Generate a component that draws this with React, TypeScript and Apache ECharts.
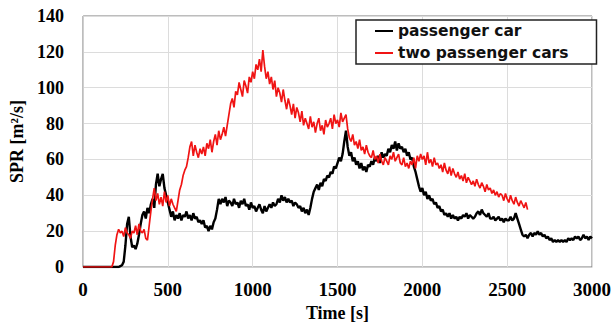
import React, { useEffect, useRef } from "react";
import * as echarts from "echarts";

// sampling step of both series, in seconds
const STEP = 10;

const xTicks = [0, 500, 1000, 1500, 2000, 2500, 3000];
const yTicks = [0, 20, 40, 60, 80, 100, 120, 140];

const seriesNames = ["passenger car", "two passenger cars"];

// SPR of one passenger car, t = 0, 10, ... 3000 s
const passengerCar = [
  0, 0, 0, 0, 0, 0, 0, 0, 0, 0,
  0, 0, 0, 0, 0, 0, 0, 0, 0, 0,
  0,
  0, 0.5, 1, 3, 12, 24, 28, 17, 11, 12,
  10, 13, 18, 24, 29, 31, 27, 33, 30, 35,
  38, 33, 46, 52, 45, 49, 52, 44, 40, 36,
  32, 28, 31, 26, 29, 27, 30, 26, 29, 28,
  31, 27, 29, 26, 30, 27, 28, 25, 26, 24,
  26, 22, 23, 20, 23, 21, 25, 27, 32, 38,
  35, 38, 36, 39, 34, 37, 36, 34, 38, 35,
  36, 33, 37, 35, 38, 34, 35, 32, 36, 33,
  34, 31, 33, 35, 32, 30, 34, 31, 33, 35,
  33, 36, 34, 35, 38, 36, 40, 37, 39, 36,
  38, 36, 37, 34, 36, 35, 33, 34, 31, 33,
  30, 32, 29, 33, 38, 42, 44, 46, 43, 47,
  45, 49, 48, 51, 50, 53, 52, 56, 55, 58,
  61, 59, 63, 70, 76, 67, 62, 64, 59, 61,
  57, 59, 55, 58, 54, 56, 53, 57, 56, 59,
  57, 61, 59, 62, 58, 64, 61, 63, 62, 66,
  64, 68, 66, 70, 65, 69, 66, 67, 64, 66,
  62, 64, 60, 61, 56, 53, 49, 45, 42, 44,
  40, 42, 38, 40, 37, 38, 35, 36, 33, 34,
  31, 32, 29, 30, 28, 30, 27, 29, 27, 28,
  26, 28, 27, 29, 28, 30, 27, 29, 28, 27,
  28, 30, 31, 29, 32, 30, 29, 28, 30, 27,
  27, 28, 26, 27, 28, 26, 27, 25, 27, 26,
  26, 28, 26, 27, 30, 27, 24, 21, 18, 17,
  18, 16, 18, 19, 17, 19, 18, 20, 18, 19,
  17, 18, 16, 17, 15, 16, 14, 15, 14, 15,
  14, 15, 14, 15, 14, 16, 15, 16, 15, 17,
  16, 17, 15, 16, 18, 16, 17, 15, 17, 16,
];

// SPR of two passenger cars, t = 0, 10, ... 2620 s
const twoPassengerCars = [
  0, 0, 0, 0, 0, 0, 0, 0, 0, 0,
  0, 0, 0, 0, 0, 0, 0, 0, 3, 12,
  18, 21, 19, 20, 17, 22, 19, 18, 16, 20,
  19, 23, 18, 24, 20, 19, 21, 16, 15, 23,
  31, 38, 44, 37, 41, 35, 39, 34, 42, 36,
  40, 34, 38, 35, 33, 31, 37, 43, 46, 51,
  54, 56, 61, 67, 70, 62, 68, 64, 61, 66,
  63, 67, 62, 69, 66, 71, 64, 70, 74, 68,
  76, 71, 74, 78, 73, 79, 85, 91, 94, 89,
  98, 96, 103, 99, 95, 104, 101, 97, 106, 103,
  109, 105, 113, 110, 116, 109, 121, 112, 105, 109,
  102, 106, 99, 104, 95, 100, 97, 92, 99, 93,
  88, 94, 90, 85, 91, 83, 89, 86, 81, 87,
  79, 83, 80, 77, 84, 78, 81, 75, 80, 83,
  76, 79, 74, 82, 78, 80, 83, 77, 85, 80,
  82, 78, 86, 81, 83, 85, 77, 72, 70, 74,
  68, 70, 66, 71, 65, 67, 63, 68, 64, 62,
  61, 65, 60, 62, 58, 63, 59, 57, 61, 59,
  57, 62, 60, 64, 59, 61, 63, 58, 57, 61,
  56, 58, 55, 59, 57, 61, 55, 62, 59, 63,
  60, 62, 57, 64, 58, 60, 56, 61, 57, 58,
  55, 57, 53, 58, 54, 52, 56, 51, 55, 52,
  50, 53, 49, 51, 48, 52, 47, 50, 48, 46,
  48, 45, 49, 46, 44, 47, 45, 42, 46, 43,
  44, 41, 43, 40, 42, 39, 41, 40, 37, 41,
  38, 36, 40, 37, 35, 39, 36, 34, 37, 35,
  33, 36, 32,
];

const SERIF = "'Liberation Serif', 'Times New Roman', serif";
const SANS = "'DejaVu Sans', sans-serif";

export default function App() {
  const ref = useRef<HTMLDivElement>(null);

  useEffect(() => {
    if (!ref.current) return;
    const chart = echarts.init(ref.current, undefined, { renderer: "svg" });
    const axisText = {
      fontFamily: SERIF,
      fontWeight: "bold" as const,
      color: "#000",
    };
    chart.setOption({
      animation: false,
      backgroundColor: "#fff",
      grid: {
        left: 83,
        right: 23,
        top: 16,
        bottom: 59,
        show: true,
        borderColor: "#7a7a7a",
        borderWidth: 1,
      },
      legend: {
        data: seriesNames,
        orient: "vertical",
        left: 356,
        top: 20,
        padding: [3, 28, 3, 19],
        itemWidth: 18,
        itemHeight: 2,
        itemGap: 6,
        icon: "rect",
        borderColor: "#222",
        borderWidth: 1.5,
        backgroundColor: "#fff",
        textStyle: {
          fontFamily: SANS,
          fontWeight: "bold",
          fontSize: 15.5,
          color: "#111",
        },
      },
      xAxis: {
        type: "value",
        min: xTicks[0],
        max: xTicks[xTicks.length - 1],
        interval: xTicks[1] - xTicks[0],
        name: "Time [s]",
        nameLocation: "middle",
        nameGap: 37,
        nameTextStyle: { ...axisText, fontSize: 18 },
        axisLine: { show: true, lineStyle: { color: "#cfcfcf", width: 1 } },
        axisTick: { show: false },
        axisLabel: {
          ...axisText,
          fontSize: 19,
          margin: 13,
          formatter: (v: number) => String(v),
        },
        splitLine: { show: true, lineStyle: { color: "#dcdcdc", width: 1 } },
      },
      yAxis: {
        type: "value",
        min: yTicks[0],
        max: yTicks[yTicks.length - 1],
        interval: yTicks[1] - yTicks[0],
        name: "SPR [m\u00b2/s]",
        nameLocation: "middle",
        nameGap: 55,
        nameTextStyle: { ...axisText, fontSize: 18 },
        axisLine: { show: true, lineStyle: { color: "#cfcfcf", width: 1 } },
        axisTick: { show: false },
        axisLabel: {
          ...axisText,
          fontSize: 18,
          margin: 19,
          formatter: (v: number) => String(v),
        },
        splitLine: { show: true, lineStyle: { color: "#dcdcdc", width: 1 } },
      },
      series: [
        {
          name: seriesNames[0],
          type: "line",
          data: passengerCar.map((v, i) => [i * STEP, v]),
          showSymbol: false,
          symbol: "none",
          lineStyle: { color: "#000", width: 2.4 },
          itemStyle: { color: "#000" },
        },
        {
          name: seriesNames[1],
          type: "line",
          data: twoPassengerCars.map((v, i) => [i * STEP, v]),
          showSymbol: false,
          symbol: "none",
          lineStyle: { color: "#f01414", width: 1.7 },
          itemStyle: { color: "#f01414" },
        },
      ],
    });
    return () => chart.dispose();
  }, []);

  return (
    <div
      ref={ref}
      style={{ position: "absolute", left: 0, top: 0, width: 615, height: 327 }}
    />
  );
}
